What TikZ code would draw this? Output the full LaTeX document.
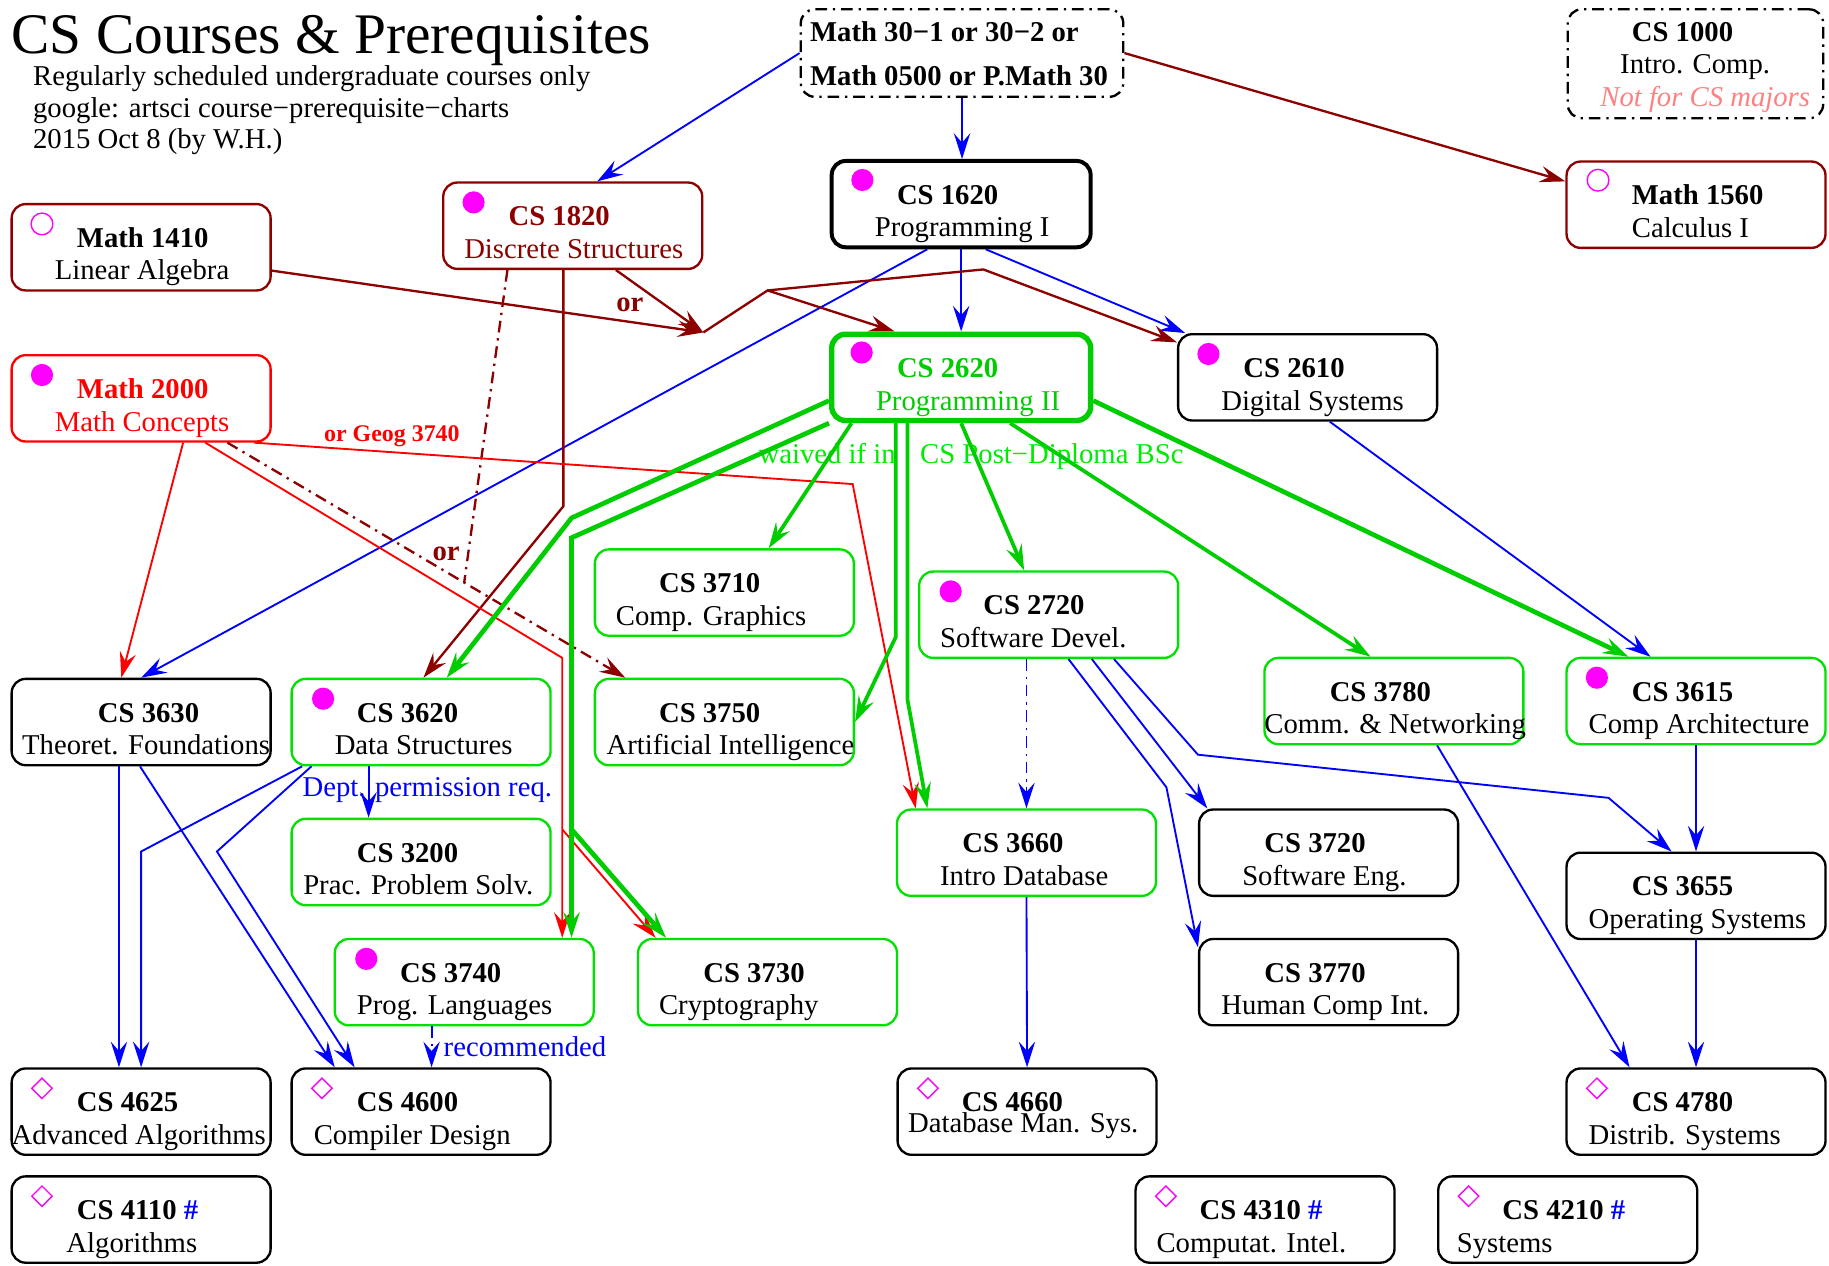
\documentclass[tikz,border=0pt]{standalone}
\usepackage{fontspec}
\setmainfont{Liberation Serif}
\usetikzlibrary{arrows.meta, shapes.geometric}
\definecolor{dred}{RGB}{140,0,0}
\definecolor{grn}{RGB}{0,205,0}
\definecolor{bgrn}{RGB}{0,225,0}
\definecolor{wgrn}{RGB}{0,235,0}
\definecolor{mag}{RGB}{255,0,255}
\definecolor{pnk}{RGB}{255,128,128}
\newlength\dpx \setlength\dpx{0.5pt}
\newlength\cw \setlength\cw{111pt}
% two lines of a course box: [offset of line 1]{offset of line 2}{number}{title}
\newcommand\twol[4][56]{\makebox[\cw][l]{\hspace*{#1\dpx}\textbf{#3}}\\\makebox[\cw][l]{\hspace*{#2\dpx}#4}}
\tikzset{course/.style={draw, rectangle, rounded corners=6pt, line width=1pt,
           minimum width=111pt, minimum height=37pt, inner xsep=0pt, inner ysep=0.5pt,
           text height=32pt, text depth=4pt, align=center},
         fdot/.style={circle, fill=mag, minimum size=9.5pt, inner sep=0pt},
         odot/.style={circle, draw=mag, line width=0.6pt, minimum size=9.3pt, inner sep=0pt},
         odia/.style={diamond, draw=mag, line width=0.6pt, minimum size=9pt, inner sep=0pt},
         dd/.style={dash pattern=on 5pt off 2.5pt on 1pt off 2.5pt},
         arr/.style={-{Stealth[length=11pt, width=7pt, inset=4pt]}},
         bl/.style={blue, line width=0.8pt, arr},
         dr/.style={dred, line width=1pt, arr},
         rd/.style={red, line width=0.8pt, arr},
         gr/.style={grn, line width=1.6pt, arr},
         grt/.style={grn, line width=2pt, arr},
         lbl/.style={anchor=base west, inner sep=0pt},}
\begin{document}
\fontsize{12.3}{14}\selectfont
\begin{tikzpicture}[x=0.5pt, y=-0.5pt]
   \useasboundingbox (0,0) rectangle (1568,1084.5);
   % heading
   \node[lbl, font=\fontsize{24.6}{28}\selectfont] (title) at (9.5,45.7) {CS Courses \& Prerequisites};
   \node[lbl, align=left, font=\fontsize{12.3}{13.5}\selectfont] (info) at (28,127.5)
      {Regularly scheduled undergraduate courses only\\google: artsci course−prerequisite−charts\\2015 Oct 8 (by W.H.)};
   % labels
   \node[lbl, text=dred, font=\bfseries] (lor1) at (528,267) {or};
   \node[lbl, text=dred, font=\bfseries] (lor2) at (370.5,480.7) {or};
   \node[lbl, text=red, font=\fontsize{10.25}{12}\selectfont\bfseries] (lgeog) at (277.5,378.6) {or Geog 3740};
   \node[lbl, text=wgrn] (lwaive) at (650,397) {waived if in\hspace{10.5pt}CS Post−Diploma BSc};
   \node[lbl, text=blue] (ldept) at (259,683) {Dept. permission req.};
   \node[lbl, text=blue] (lrec) at (380,906) {recommended};
   % entry boxes
   \node[course, dd, minimum width=138.25pt, minimum height=37.5pt, inner ysep=0pt,
         text height=32.45pt, text depth=5.05pt] (m30) at (824.75,45.5)
      {\makebox[138.25pt][l]{\hspace*{8\dpx}\textbf{Math 30−1 or 30−2 or}}\\[4.6pt]%
       \makebox[138.25pt][l]{\hspace*{8\dpx}\textbf{Math 0500 or P.Math 30}}};
   \node[course, dd, minimum width=109.5pt, minimum height=46.7pt, inner ysep=0pt,
         text height=41.5pt, text depth=5.2pt, font=\fontsize{12.3}{13.8}\selectfont] (cs1000) at (1453.5,54.7)
      {\makebox[109.5pt][l]{\hspace*{55\dpx}\textbf{CS 1000}}\\
       \makebox[109.5pt][l]{\hspace*{45\dpx}Intro. Comp.}\\
       \makebox[109.5pt][l]{\hspace*{28\dpx}\textcolor{pnk}{\textit{Not for CS majors}}}};
   % courses
   \node[course, draw=dred] (m1410) at (121,212) {\twol{37}{Math 1410}{Linear Algebra}};
   \node[course, draw=dred, text=dred] (cs1820) at (491,193.5) {\twol{18}{CS 1820}{Discrete Structures}};
   \node[course, line width=1.7pt] (cs1620) at (824,175) {\twol{37}{CS 1620}{Programming I}};
   \node[course, draw=dred] (m1560) at (1454,175.5) {\twol{56}{Math 1560}{Calculus I}};
   \node[course, draw=red, text=red] (m2000) at (121,341.5) {\twol{37}{Math 2000}{Math Concepts}};
   \node[course, draw=grn, line width=2.3pt, text=grn] (cs2620) at (824,323.5) {\twol{38}{CS 2620}{Programming II}};
   \node[course] (cs2610) at (1121,323.5) {\twol{37}{CS 2610}{Digital Systems}};
   \node[course, draw=bgrn] (cs3710) at (621,508) {\twol[55]{18}{CS 3710}{Comp. Graphics}};
   \node[course, draw=bgrn] (cs2720) at (899,527) {\twol[55]{18}{CS 2720}{Software Devel.}};
   \node[course, draw=bgrn] (cs3780) at (1195,601) {\twol{0}{CS 3780}{Comm. \& Networking}};
   \node[course, draw=bgrn] (cs3615) at (1454,601) {\twol{19}{CS 3615}{Comp Architecture}};
   \node[course] (cs3630) at (121,619) {\twol[74]{9}{CS 3630}{Theoret. Foundations}};
   \node[course, draw=bgrn] (cs3620) at (361,619) {\twol{37}{CS 3620}{Data Structures}};
   \node[course, draw=bgrn] (cs3750) at (621,619) {\twol[55]{10}{CS 3750}{Artificial Intelligence}};
   \node[course, draw=bgrn] (cs3660) at (880,731) {\twol{37}{CS 3660}{Intro Database}};
   \node[course] (cs3720) at (1139,731) {\twol{37}{CS 3720}{Software Eng.}};
   \node[course] (cs3655) at (1454,768) {\twol{19}{CS 3655}{Operating Systems}};
   \node[course, draw=bgrn] (cs3200) at (361,739) {\twol{10}{CS 3200}{Prac. Problem Solv.}};
   \node[course, draw=bgrn] (cs3740) at (398,842) {\twol{19}{CS 3740}{Prog. Languages}};
   \node[course, draw=bgrn] (cs3730) at (658,842) {\twol{18}{CS 3730}{Cryptography}};
   \node[course] (cs3770) at (1139,842) {\twol{19}{CS 3770}{Human Comp Int.}};
   \node[course] (cs4625) at (121,953) {\twol{0}{CS 4625}{Advanced Algorithms}};
   \node[course] (cs4600) at (361,953) {\twol{19}{CS 4600}{Compiler Design}};
   \node[course, text height=27pt, text depth=9pt] (cs4660) at (880.5,953)
      {\makebox[\cw][l]{\hspace*{55\dpx}\textbf{CS 4660}}\\[-5pt]\makebox[\cw][l]{\hspace*{9\dpx}Database Man. Sys.}};
   \node[course] (cs4780) at (1454,953) {\twol{19}{CS 4780}{Distrib. Systems}};
   \node[course] (cs4110) at (121,1045.5) {\twol{47}{CS 4110 \textcolor{blue}{\#}}{Algorithms}};
   \node[course] (cs4310) at (1084.5,1045.5) {\twol[55]{18}{CS 4310 \textcolor{blue}{\#}}{Computat. Intel.}};
   \node[course] (cs4210) at (1344,1045.5) {\twol[55]{16}{CS 4210 \textcolor{blue}{\#}}{Systems}};
   % marks
   \node[odot] (k1410) at ([shift={(27,18)}]m1410.north west) {};
   \node[fdot] (k1820) at ([shift={(27,18)}]cs1820.north west) {};
   \node[fdot] (k1620) at ([shift={(28,18)}]cs1620.north west) {};
   \node[odot] (k1560) at ([shift={(28,17)}]m1560.north west) {};
   \node[fdot] (k2000) at ([shift={(27,18)}]m2000.north west) {};
   \node[fdot] (k2620) at ([shift={(28,18)}]cs2620.north west) {};
   \node[fdot] (k2610) at ([shift={(27,18)}]cs2610.north west) {};
   \node[fdot] (k2720) at ([shift={(28,18)}]cs2720.north west) {};
   \node[fdot] (k3615) at ([shift={(27,18)}]cs3615.north west) {};
   \node[fdot] (k3620) at ([shift={(28,18)}]cs3620.north west) {};
   \node[fdot] (k3740) at ([shift={(28,18)}]cs3740.north west) {};
   \node[odia] (k4625) at ([shift={(27,18)}]cs4625.north west) {};
   \node[odia] (k4600) at ([shift={(27,18)}]cs4600.north west) {};
   \node[odia] (k4660) at ([shift={(27,18)}]cs4660.north west) {};
   \node[odia] (k4780) at ([shift={(27,18)}]cs4780.north west) {};
   \node[odia] (k4110) at ([shift={(27,18)}]cs4110.north west) {};
   \node[odia] (k4310) at ([shift={(27,18)}]cs4310.north west) {};
   \node[odia] (k4210) at ([shift={(27,18)}]cs4210.north west) {};
   % bends
   \coordinate (orj) at (603,285);
   \coordinate (orb) at (658,249);
   \coordinate (orc) at (843,231);
   \coordinate (dbend) at (483,434);
   \coordinate (dj) at (398,499);
   \coordinate (rbend) at (482,564);
   \coordinate (rsplit) at (482,711);
   \coordinate (rkink) at (731,415);
   \coordinate (ga) at (490,444);
   \coordinate (gb) at (490,461);
   \coordinate (gsplit) at (490,711);
   \coordinate (g4) at (768,546);
   \coordinate (g5) at (778,600);
   \coordinate (b2) at (1000,675);
   \coordinate (b3) at (1027,647);
   \coordinate (b4) at (1379,684);
   \coordinate (b5) at (121,730);
   \coordinate (b6) at (186,730);
   % blue
   \path[bl]
   (m30.west) edge ([shift={(21,0)}]cs1820.north)
   (m30.south) edge (m30.south |- cs1620.north)
   (cs1620.south) edge (cs2620.north)
   ([shift={(21,0)}]cs1620.south) edge ([shift={(-105,0)}]cs2610.north)
   ([shift={(-29,0)}]cs1620.south) edge (cs3630.north)
   ([shift={(19,0)}]cs2610.south) edge ([shift={(-39,0)}]cs3615.north)
   ([shift={(37,0)}]cs2720.south) edge ([shift={(-104,0)}]cs3720.north)
   ([shift={(37,0)}]cs3780.south) edge ([shift={(-57,0)}]cs4780.north)
   (cs3615.south) edge (cs3655.north)
   (cs3655.south) edge (cs4780.north)
   (cs3660.south) edge (cs4660.north)
   ([shift={(-19,0)}]cs3630.south) edge ([shift={(-19,0)}]cs4625.north)
   ([shift={(-1,0)}]cs3630.south) edge ([shift={(-74,0)}]cs4600.north)
   ([shift={(-45,0)}]cs3620.south) edge ([shift={(-45,0)}]cs3200.north);
   \draw[bl] ([shift={(17,0)}]cs2720.south) -- (b2) -- ([shift={(0,-30)}]cs3770.west);
   \draw[bl] ([shift={(56,0)}]cs2720.south) -- (b3) -- (b4) -- ([shift={(-21,0)}]cs3655.north);
   \draw[bl] ([shift={(-102,0)}]cs3620.south) -- (b5) -- (cs4625.north);
   \draw[bl] ([shift={(-94,0)}]cs3620.south) -- (b6) -- ([shift={(-57,0)}]cs4600.north);
   \draw[bl, dd] ([shift={(-19,0)}]cs2720.south) -- (cs3660.north);
   \draw[bl, dd] ([shift={(-28,0)}]cs3740.south) -- ([shift={(9,0)}]cs4600.north);
   % dark red
   \draw[dr] (m30.east) -- ([shift={(0,-20)}]m1560.west);
   \draw[dr] ([shift={(0,20)}]m1410.east) -- (orj);
   \draw[dr] ([shift={(37,0)}]cs1820.south) -- (orj);
   \draw[dr] (orj) -- (orb) -- ([shift={(-57,0)}]cs2620.north);
   \draw[dr] (orb) -- (orc) -- ([shift={(0,-30)}]cs2610.west);
   \draw[dr] ([shift={(-8,0)}]cs1820.south) -- (dbend) -- ([shift={(2,0)}]cs3620.north);
   \draw[dr, dd, -] ([shift={(-56,0)}]cs1820.south) -- (dj);
   \draw[dr, dd] ([shift={(74,0)}]m2000.south) -- ([shift={(-85,0)}]cs3750.north);
   % red
   \draw[rd] ([shift={(36,0)}]m2000.south) -- ([shift={(-17,0)}]cs3630.north);
   \draw[rd] ([shift={(55,0)}]m2000.south) -- (rbend) -- (rsplit) -- ([shift={(84,0)}]cs3740.north);
   \draw[rd] (rsplit) -- ([shift={(-96,0)}]cs3730.north);
   \draw[rd] ([shift={(97,0)}]m2000.south) -- (rkink) -- ([shift={(-95,0)}]cs3660.north);
   % green
   \draw[grt] ([shift={(0,20)}]cs2620.west) -- (ga) -- ([shift={(22,0)}]cs3620.north);
   \draw[grt] (cs2620.south west) -- (gb) -- (gsplit) -- ([shift={(92,0)}]cs3740.north);
   \draw[grt] (gsplit) -- ([shift={(-87,0)}]cs3730.north);
   \draw[gr] ([shift={(-94,0)}]cs2620.south) -- ([shift={(38,0)}]cs3710.north);
   \draw[gr] ([shift={(-56,0)}]cs2620.south) -- (g4) -- (cs3750.east);
   \draw[gr] ([shift={(-46,0)}]cs2620.south) -- (g5) -- ([shift={(-85,0)}]cs3660.north);
   \draw[gr] (cs2620.south) -- ([shift={(-21,0)}]cs2720.north);
   \draw[gr] ([shift={(42,0)}]cs2620.south) -- ([shift={(-20,0)}]cs3780.north);
   \draw[grt] ([shift={(0,20)}]cs2620.east) -- ([shift={(-58,0)}]cs3615.north);
\end{tikzpicture}
\end{document}
